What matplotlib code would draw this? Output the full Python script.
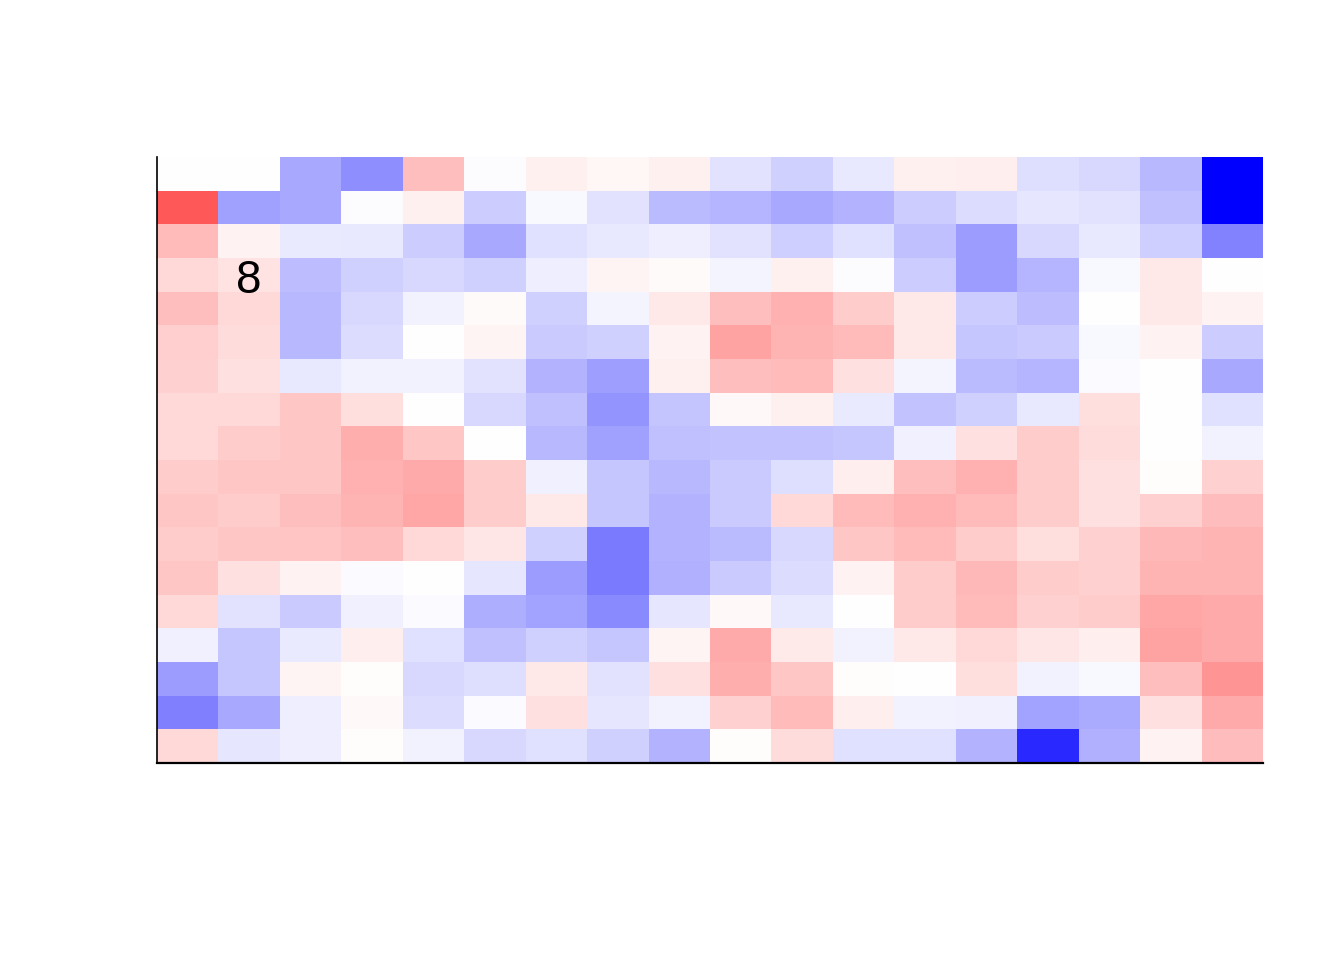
"""Blue-white-red cell heatmap, 18 x 18, with one annotated cell."""
import numpy as np
import matplotlib
matplotlib.use("Agg")
import matplotlib.pyplot as plt
from matplotlib.colors import LinearSegmentedColormap

# Cell values, row 0 = top row, scale -1 (blue) .. 1 (red).
row_values = [
    [0.00, 0.00, -0.34, -0.44, 0.25, -0.01, 0.06, 0.035, 0.055, -0.11, -0.18, -0.09, 0.055, 0.065, -0.13, -0.15, -0.28, -1.00],
    [0.65, -0.37, -0.34, -0.01, 0.06, -0.20, -0.03, -0.11, -0.27, -0.29, -0.34, -0.30, -0.20, -0.14, -0.10, -0.11, -0.25, -1.00],
    [0.27, 0.05, -0.08, -0.09, -0.20, -0.34, -0.12, -0.09, -0.07, -0.11, -0.19, -0.12, -0.25, -0.39, -0.15, -0.09, -0.19, -0.49],
    [0.15, 0.11, -0.26, -0.18, -0.15, -0.18, -0.07, 0.04, 0.02, -0.04, 0.06, -0.01, -0.20, -0.39, -0.29, -0.03, 0.09, 0.00],
    [0.25, 0.15, -0.28, -0.15, -0.05, 0.02, -0.18, -0.04, 0.09, 0.25, 0.31, 0.20, 0.09, -0.20, -0.26, 0.00, 0.09, 0.05],
    [0.19, 0.14, -0.28, -0.14, 0.00, 0.04, -0.21, -0.18, 0.05, 0.36, 0.29, 0.27, 0.09, -0.22, -0.21, -0.03, 0.05, -0.20],
    [0.18, 0.12, -0.09, -0.05, -0.05, -0.11, -0.30, -0.38, 0.06, 0.25, 0.27, 0.12, -0.04, -0.27, -0.29, -0.02, 0.00, -0.34],
    [0.15, 0.15, 0.22, 0.13, 0.00, -0.15, -0.25, -0.42, -0.23, 0.03, 0.06, -0.08, -0.24, -0.18, -0.09, 0.13, 0.00, -0.12],
    [0.15, 0.20, 0.22, 0.32, 0.22, 0.00, -0.28, -0.37, -0.25, -0.24, -0.24, -0.22, -0.06, 0.12, 0.20, 0.14, 0.00, -0.05],
    [0.20, 0.22, 0.22, 0.31, 0.33, 0.20, -0.06, -0.22, -0.28, -0.21, -0.13, 0.07, 0.25, 0.31, 0.20, 0.12, 0.01, 0.18],
    [0.22, 0.20, 0.25, 0.29, 0.35, 0.20, 0.09, -0.22, -0.30, -0.21, 0.15, 0.27, 0.31, 0.27, 0.20, 0.12, 0.18, 0.26],
    [0.20, 0.22, 0.23, 0.25, 0.15, 0.10, -0.18, -0.52, -0.30, -0.27, -0.15, 0.22, 0.27, 0.20, 0.13, 0.18, 0.28, 0.29],
    [0.22, 0.12, 0.05, -0.02, 0.00, -0.10, -0.39, -0.52, -0.31, -0.21, -0.14, 0.05, 0.20, 0.28, 0.20, 0.18, 0.29, 0.29],
    [0.15, -0.11, -0.21, -0.06, -0.02, -0.32, -0.36, -0.46, -0.10, 0.03, -0.09, 0.00, 0.20, 0.27, 0.18, 0.20, 0.35, 0.33],
    [-0.06, -0.22, -0.08, 0.07, -0.12, -0.25, -0.18, -0.22, 0.04, 0.33, 0.08, -0.05, 0.09, 0.15, 0.10, 0.07, 0.36, 0.33],
    [-0.39, -0.22, 0.04, 0.01, -0.15, -0.13, 0.09, -0.11, 0.12, 0.32, 0.22, 0.01, 0.00, 0.13, -0.05, -0.03, 0.25, 0.42],
    [-0.50, -0.34, -0.07, 0.03, -0.14, -0.02, 0.12, -0.10, -0.05, 0.18, 0.27, 0.07, -0.05, -0.06, -0.36, -0.33, 0.12, 0.33],
    [0.15, -0.10, -0.07, 0.01, -0.05, -0.15, -0.12, -0.18, -0.30, 0.01, 0.14, -0.12, -0.12, -0.30, -0.84, -0.31, 0.05, 0.26],
]

# Single label drawn inside one cell: (row, column, text)
label_cell = (3, 1, "8")

values = np.array(row_values)
n_rows, n_cols = values.shape

cmap = LinearSegmentedColormap.from_list("bwr_r", ["#0000FF", "#FFFFFF", "#FF0000"])

fig = plt.figure(figsize=(13.44, 9.6), dpi=100)
ax = fig.add_axes([157 / 1344, 1 - 763 / 960, (1263 - 157) / 1344, (763 - 157) / 960])

ax.pcolormesh(np.arange(n_cols + 1), np.arange(n_rows + 1), values,
              cmap=cmap, vmin=-1, vmax=1, shading="flat")
ax.set_xlim(0, n_cols)
ax.set_ylim(n_rows, 0)

# label sits a little low in its cell, baseline just below the cell edge
r, c, txt = label_cell
ax.text(c + 0.5, r + 1.04, txt, ha="center", va="baseline",
        fontsize=33, family=["Liberation Sans", "DejaVu Sans"], color="black")

ax.set_xticks([])
ax.set_yticks([])
for side in ("top", "right"):
    ax.spines[side].set_visible(False)
ax.spines["left"].set_linewidth(1.2)
ax.spines["bottom"].set_linewidth(1.6)

fig.savefig("out.png", dpi=100, facecolor="white")
